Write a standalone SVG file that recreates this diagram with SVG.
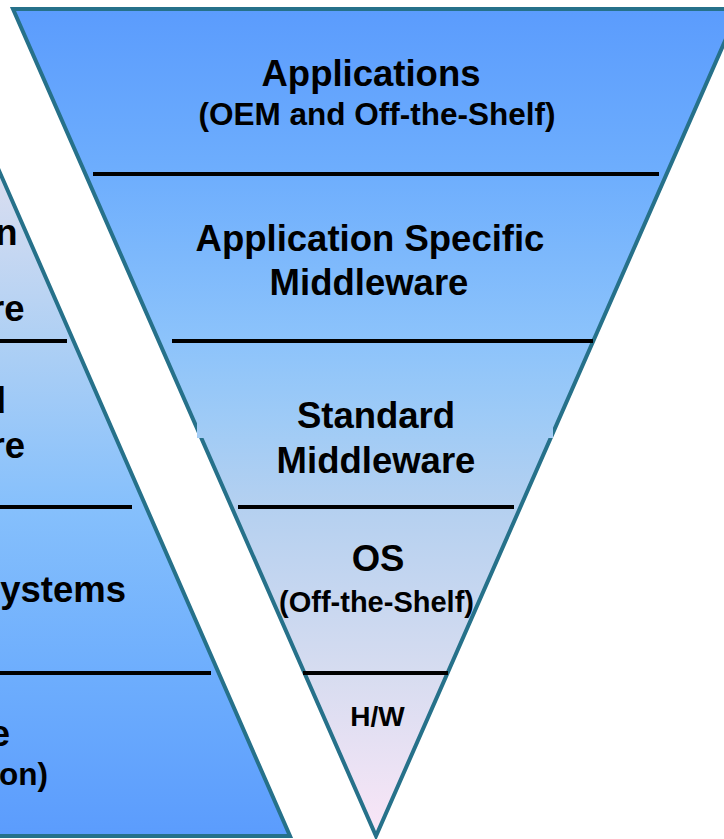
<svg xmlns="http://www.w3.org/2000/svg" width="724" height="839" viewBox="0 0 724 839">
  <defs>
    <linearGradient id="gR" gradientUnits="userSpaceOnUse" x1="0" y1="10" x2="0" y2="836">
      <stop offset="0" stop-color="#5b9cfd"/>
      <stop offset="0.2" stop-color="#6eaefd"/>
      <stop offset="0.4" stop-color="#8cc3fb"/>
      <stop offset="0.5" stop-color="#9fcbf6"/>
      <stop offset="0.6" stop-color="#b4d0f0"/>
      <stop offset="0.8" stop-color="#d6dcf0"/>
      <stop offset="1" stop-color="#fae6f7"/>
    </linearGradient>
    <linearGradient id="gL" gradientUnits="userSpaceOnUse" x1="0" y1="173" x2="0" y2="836">
      <stop offset="0" stop-color="#dadef0"/>
      <stop offset="0.25" stop-color="#afd0f4"/>
      <stop offset="0.5" stop-color="#86c0fc"/>
      <stop offset="0.75" stop-color="#6eaefd"/>
      <stop offset="1" stop-color="#5b9cfd"/>
    </linearGradient>
  </defs>
  <style>
    .edge { fill: none; stroke: #26718a; stroke-width: 4; stroke-linejoin: miter; }
    .div { stroke: #000; stroke-width: 4; }
    .t { font-family: "Liberation Sans", Arial, sans-serif; font-weight: bold; fill: #000; }
    .big { font-size: 36.5px; }
    .mid { font-size: 31.5px; }
    .c { text-anchor: middle; }
    .e { text-anchor: end; }
  </style>

  <rect width="724" height="839" fill="#fff"/>

  <!-- Left (partially visible) upright triangle -->
  <g id="left-pyramid">
    <polygon points="-10,150 290,836 -10,836" fill="url(#gL)"/>
    <polyline class="edge" points="-10,150 290,836 -10,836"/>
  </g>
  <g id="left-dividers">
    <line class="div" x1="0" y1="341" x2="67" y2="341"/>
    <line class="div" x1="0" y1="507" x2="132" y2="507"/>
    <line class="div" x1="0" y1="673" x2="211" y2="673"/>
  </g>
  <g id="left-labels">
    <text class="t big e" x="17.5" y="245">n</text>
    <text class="t big e" x="24.5" y="321">re</text>
    <text class="t big e" x="6" y="413">d</text>
    <text class="t big e" x="25" y="458">re</text>
    <text class="t big e" x="126" y="602">ystems</text>
    <text class="t big e" x="10" y="746">e</text>
    <text class="t mid e" x="48" y="785">on)</text>
  </g>

  <!-- Right inverted triangle -->
  <g id="right-pyramid">
    <polygon points="13,9 739,9 376,836" fill="url(#gR)"/>
    <polygon class="edge" points="13,9 739,9 376,836"/>
    <rect x="197" y="385" width="356" height="53" fill="url(#gR)"/>
  </g>
  <g id="right-dividers">
    <line class="div" x1="93" y1="174" x2="659" y2="174"/>
    <line class="div" x1="172" y1="341" x2="593" y2="341"/>
    <line class="div" x1="238" y1="507" x2="514" y2="507"/>
    <line class="div" x1="303" y1="673" x2="448" y2="673"/>
  </g>

  <g id="layer-applications">
    <text class="t big c" x="371" y="86">Applications</text>
    <text class="t mid c" x="377" y="125">(OEM and Off-the-Shelf)</text>
  </g>
  <g id="layer-app-specific-middleware">
    <text class="t big c" x="370" y="251">Application Specific</text>
    <text class="t big c" x="369" y="295">Middleware</text>
  </g>
  <g id="layer-standard-middleware">
    <text class="t big c" x="376" y="428">Standard</text>
    <text class="t big c" x="376" y="473">Middleware</text>
  </g>
  <g id="layer-os">
    <text class="t big c" x="378" y="571">OS</text>
    <text class="t c" style="font-size:29px" x="376.5" y="612">(Off-the-Shelf)</text>
  </g>
  <g id="layer-hw">
    <text class="t c" style="font-size:28px" x="377.5" y="726">H/W</text>
  </g>
</svg>
